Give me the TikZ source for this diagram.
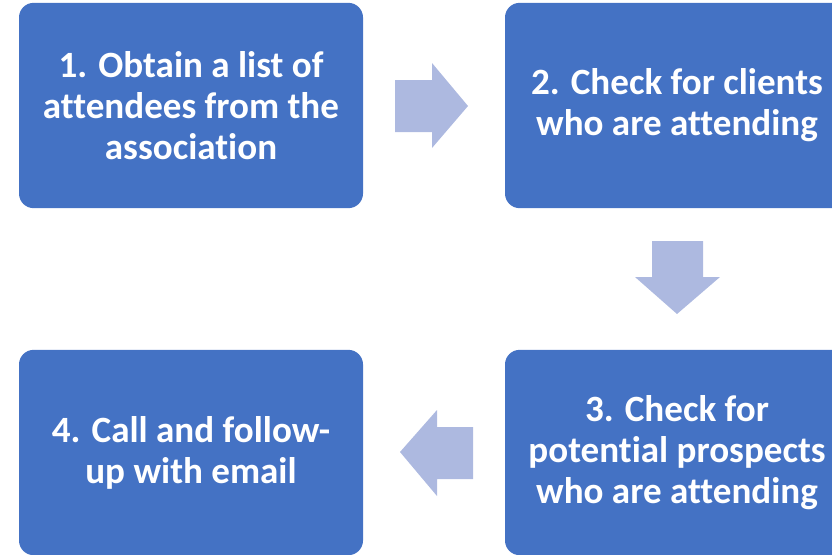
\documentclass[tikz,border=0pt]{standalone}
\usepackage{fontspec}
\setmainfont[Ligatures=NoCommon]{Carlito}
\definecolor{stepblue}{RGB}{68,114,196}
\definecolor{arrowblue}{RGB}{173,185,224}
\tikzset{
  stepbox/.style={fill=stepblue, rounded corners=11pt, text=white, align=center,
    minimum width=258pt, minimum height=154pt, inner sep=0pt,
    font=\fontsize{27.8}{30.8}\selectfont\bfseries},
  blockarrow/.style={fill=arrowblue, draw=none}
}
\begin{document}
\begin{tikzpicture}[x=0.75pt, y=-0.75pt]
\useasboundingbox (0,0) rectangle (832,554);

\node[stepbox] (obtain) at (191,105.5) {1. Obtain a list of\\attendees from the\\association};
\node[stepbox] (clients) at (677,105.5) {2. Check for clients\\who are attending};
\node[stepbox] (prospects) at (677,452.5) {3. Check for\\potential prospects\\who are attending};
\node[stepbox] (call) at (191,452.5) {4. Call and follow-\\up with email};

% right arrow
\fill[blockarrow] (395,80)--(432,80)--(432,63)--(468,106)--(432,148)--(432,132)--(395,132)--cycle;
% down arrow
\fill[blockarrow] (652,241)--(703,241)--(703,277)--(720,277)--(677,314)--(635,277)--(652,277)--cycle;
% left arrow
\fill[blockarrow] (473,427)--(437,427)--(437,410)--(400,452)--(437,496)--(437,479)--(473,479)--cycle;
\end{tikzpicture}
\end{document}
